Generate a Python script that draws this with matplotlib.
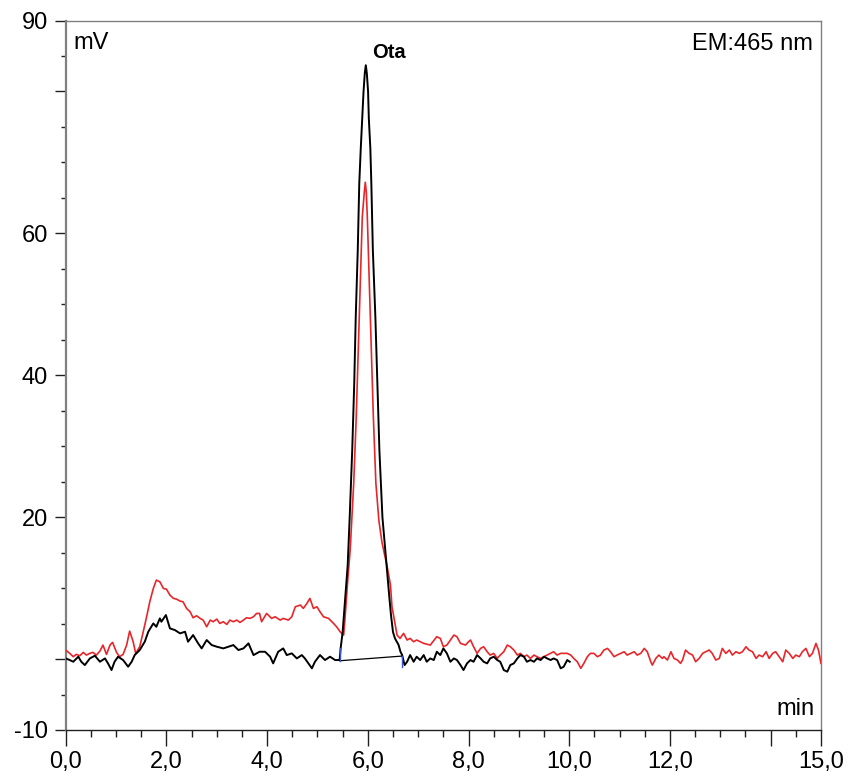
import matplotlib
matplotlib.use("Agg")
import matplotlib.pyplot as plt
from matplotlib.ticker import FixedLocator, FixedFormatter, MultipleLocator

plt.rcParams['font.family'] = ['Liberation Sans', 'DejaVu Sans']

# ---------------- data ----------------
red_t = [0.00, 0.08, 0.15, 0.21, 0.28, 0.35, 0.41, 0.48, 0.54, 0.61, 0.68, 0.74, 0.81, 0.88, 0.93,
         1.01, 1.07, 1.14, 1.21, 1.27, 1.34, 1.39, 1.47, 1.54, 1.60, 1.67, 1.74, 1.80, 1.87, 1.94,
         2.00, 2.07, 2.14, 2.20, 2.27, 2.33, 2.40, 2.47, 2.53, 2.60, 2.67, 2.73, 2.80, 2.87, 2.93,
         3.00, 3.06, 3.13, 3.20, 3.26, 3.33, 3.40, 3.46, 3.53, 3.59, 3.66, 3.73, 3.79, 3.85,
         3.89, 3.99, 4.09, 4.16, 4.26, 4.32, 4.42, 4.49, 4.56, 4.66, 4.72, 4.79, 4.85, 4.92, 4.99,
         5.05, 5.12, 5.22, 5.32, 5.38, 5.45, 5.52,
         5.55, 5.60, 5.65, 5.72, 5.77, 5.81, 5.85, 5.89, 5.93, 5.95, 5.97, 5.99, 6.03, 6.07, 6.11,
         6.16, 6.22, 6.28, 6.33, 6.38, 6.45, 6.48, 6.51, 6.55, 6.58,
         6.64, 6.71, 6.78, 6.84, 6.91, 6.97, 7.11, 7.24, 7.37, 7.44, 7.50, 7.57,
         7.64, 7.71, 7.77, 7.84, 7.94, 8.00, 8.04, 8.10, 8.17, 8.24, 8.30, 8.37, 8.43, 8.50, 8.57,
         8.63, 8.70, 8.77, 8.83, 8.90, 8.97, 9.03, 9.10, 9.16, 9.23, 9.30, 9.36, 9.43, 9.56, 9.63,
         9.69, 9.76, 9.83, 9.96, 10.03, 10.09, 10.16, 10.23, 10.29, 10.36, 10.42, 10.49, 10.56,
         10.62, 10.69, 10.76, 10.82, 10.89, 10.95, 11.02, 11.09, 11.15,
         11.22, 11.29, 11.35, 11.42, 11.49, 11.55, 11.62, 11.65, 11.72, 11.78, 11.85, 11.88, 11.95,
         12.02, 12.08, 12.15, 12.21, 12.25, 12.31, 12.38, 12.45, 12.51, 12.58, 12.65, 12.71, 12.78,
         12.84, 12.91, 12.98, 13.04, 13.11, 13.18, 13.24, 13.31, 13.38, 13.44, 13.51, 13.57, 13.64,
         13.71, 13.77, 13.84, 13.91, 13.97, 14.04, 14.10, 14.17, 14.24, 14.30, 14.37, 14.44, 14.50,
         14.57, 14.63, 14.70, 14.77, 14.83, 14.90, 14.95, 15.00]
red_mv = [1.27, 0.80, 0.33, 0.66, 0.47, 0.94, 0.56, 0.80, 0.94, 0.56, 1.13, 1.97, 0.66, 1.97, 2.35,
          0.94, 0.33, 0.66, 1.97, 3.94, 2.44, 0.80, 1.74, 3.85, 5.73, 8.08, 9.95, 11.13, 10.89, 9.95,
          9.86, 9.01, 8.55, 8.45, 8.17, 8.08, 7.14, 6.67, 5.82, 6.10, 5.73, 5.49, 4.55, 5.49, 5.26,
          5.63, 5.02, 5.26, 4.88, 5.49, 5.26, 5.49, 5.16, 5.49, 5.82, 5.73, 5.96, 6.43, 6.43,
          5.26, 6.43, 5.73, 5.96, 5.49, 5.73, 5.49, 5.96, 7.37, 7.61, 7.14, 7.84, 8.55, 7.14, 7.37,
          6.67, 5.96, 5.73, 5.02, 4.55, 3.85, 3.38,
          6.0, 11.0, 15.4, 24.8, 34.1, 43.5, 52.9, 62.3, 65.8, 67.2, 65.8, 62.3, 52.9, 43.5, 34.1,
          24.8, 19.5, 16.5, 14.8, 13.2, 10.42, 7.37, 6.20, 4.55, 3.38,
          2.91, 3.62, 2.68, 2.91, 2.44, 2.68, 2.21, 1.97, 3.15, 2.91, 1.74, 1.97,
          2.68, 3.38, 3.15, 2.21, 1.97, 2.44, 2.68, 1.74, 0.80, 1.50, 1.74, 1.03, 0.56, 0.80, 0.09,
          0.56, 1.03, 1.97, 1.74, 1.27, 0.56, 0.80, 0.33, 0.56, 0.09, 0.56, 0.33, 0.09, 0.56, 0.80,
          1.03, 0.56, 0.80, 0.80, 0.56, 0.09, -0.38, -1.31, -0.61, 0.33, 0.80, 0.80, 0.33,
          0.56, 1.27, 1.50, 1.03, 0.33, 0.56, 0.80, 1.03, 0.56,
          0.80, 1.03, 0.56, 0.80, 1.50, 1.03, -0.38, -0.85, 0.09, 0.56, 0.09, 0.33, -0.14,
          1.03, 0.09, -0.14, -0.61, -0.14, 1.27, 0.80, 0.56, -0.38, 0.09, 0.80, 1.03, 1.27,
          0.80, -0.14, 0.09, 1.50, 0.80, 1.27, 0.56, 1.03, 0.80, 1.03, 1.73, 1.27, 1.03,
          0.09, 0.56, 0.33, 1.03, 0.09, 0.80, 1.03, 0.33, -0.38, 1.27, 0.80, 0.09, 0.56,
          0.33, 1.03, 1.50, 0.33, 0.80, 2.20, 1.27, -0.61]

black_t = [0.00, 0.08, 0.15, 0.25, 0.31, 0.38, 0.48, 0.58, 0.68, 0.78, 0.84, 0.91, 0.97, 1.04, 1.14,
           1.24, 1.31, 1.37, 1.47, 1.57, 1.64, 1.74, 1.80, 1.87, 1.90, 1.99, 2.07, 2.17, 2.27, 2.37,
           2.43, 2.53, 2.63, 2.70, 2.80, 2.90, 3.00, 3.13, 3.23, 3.33, 3.43, 3.53, 3.63, 3.73, 3.85,
           3.96, 4.06, 4.12, 4.22, 4.32, 4.39, 4.49, 4.59, 4.69, 4.75, 4.82, 4.89, 4.95, 5.05, 5.15,
           5.25, 5.35, 5.44,
           5.46, 5.50, 5.55, 5.60, 5.64, 5.69, 5.73, 5.76, 5.80, 5.83, 5.86, 5.89, 5.915, 5.94, 5.96,
           5.98, 6.005, 6.02, 6.05, 6.07, 6.10, 6.15, 6.19, 6.23, 6.29, 6.38, 6.43, 6.46, 6.50, 6.54,
           6.61, 6.65, 6.68,
           6.73, 6.78, 6.84, 6.91, 6.97, 7.04, 7.11, 7.17, 7.24, 7.31, 7.37, 7.44, 7.50, 7.57,
           7.64, 7.71, 7.77, 7.84, 7.90, 7.97, 8.04, 8.10, 8.17, 8.24, 8.30, 8.37, 8.43, 8.50, 8.57,
           8.63, 8.70, 8.77, 8.83, 8.90, 8.97, 9.03, 9.10, 9.16, 9.23, 9.30, 9.36, 9.43, 9.50, 9.56,
           9.63, 9.69, 9.76, 9.83, 9.89, 9.96, 10.01]
black_mv = [0.09, -0.14, -0.38, 0.33, -0.38, -0.85, 0.09, 0.47, -0.38, 0.09, -0.61, -1.55, -0.38, 0.33, -0.14,
            -1.08, -0.38, 0.56, 1.27, 2.44, 3.85, 5.02, 4.55, 5.73, 5.26, 6.20, 4.32, 4.08, 3.62, 3.85,
            2.44, 3.38, 2.21, 1.50, 2.68, 1.97, 1.74, 1.50, 1.74, 1.97, 1.27, 1.50, 2.21, 0.56, 1.03,
            1.03, 0.33, -0.61, 1.03, 1.50, 0.56, 0.80, 0.09, 0.56, 0.09, -0.61, -1.31, -0.38, 0.56, -0.14,
            0.33, -0.14, -0.14,
            1.5, 3.8, 8.5, 13.2, 20.0, 29.4, 38.8, 48.2, 57.6, 67.0, 72.0, 76.2, 80.0, 82.6, 83.7,
            82.6, 80.0, 76.2, 72.0, 67.0, 57.6, 48.2, 38.8, 29.4, 20.0, 12.5, 8.5, 6.2, 3.8, 2.9,
            2.0, 1.0, 0.6,
            -0.85, -0.38, 0.56, -0.38, 0.33, -0.14, 0.56, -0.38, 0.09, -0.14, 1.03, 0.56, 1.50, 0.80,
            -0.38, 0.09, -0.14, -0.85, -1.55, -0.61, -0.14, -0.38, 0.56, 0.09, -0.38, -0.61, 0.09, 0.33, -0.14,
            -0.38, -1.55, -1.78, -0.85, -0.61, 0.09, 0.56, 0.33, -0.38, -0.14, -0.38, 0.09, -0.14, 0.33, 0.09,
            -0.14, 0.09, -0.14, -1.31, -1.08, -0.14, -0.38]

# peak integration baseline and markers (start / end)
peak_base_t = [5.44, 6.68]
peak_base_mv = [-0.24, 0.42]
marker_top = [1.5, 0.42]
marker_bottom = [-0.24, -1.1]

peak_name = "Ota"
peak_label_pos = (6.42, 84.7)

y_major = [90, 80, 60, 40, 20, 0, -10]
y_labels = ["90", "", "60", "40", "20", "", "-10"]
x_major = [0, 2, 4, 6, 8, 10, 12, 14, 15]
x_labels = ["0,0", "2,0", "4,0", "6,0", "8,0", "10,0", "12,0", "", "15,0"]

# ---------------- figure ----------------
W, H = 852, 776
fig = plt.figure(figsize=(W / 100, H / 100), dpi=100)
left, right, top, bottom = 65.7, 821.0, 20.5, 730.0
ax = fig.add_axes([left / W, 1 - bottom / H, (right - left) / W, (bottom - top) / H])

red = '#e8262a'
ax.plot(red_t, red_mv, color=red, lw=1.2, zorder=3)
ax.plot(black_t, black_mv, color='black', lw=1.4, zorder=4)
ax.plot(peak_base_t, peak_base_mv, color='black', lw=0.9, zorder=4)
for t, y0, y1 in zip(peak_base_t, marker_bottom, marker_top):
    ax.plot([t, t], [y0, y1], color='#3a55c8', lw=1.0, zorder=5)

ax.set_xlim(0, 15)
ax.set_ylim(-10, 90)

ax.yaxis.set_major_locator(FixedLocator(y_major))
ax.yaxis.set_major_formatter(FixedFormatter(y_labels))
ax.yaxis.set_minor_locator(MultipleLocator(5))
ax.xaxis.set_major_locator(FixedLocator(x_major))
ax.xaxis.set_major_formatter(FixedFormatter(x_labels))
ax.xaxis.set_minor_locator(MultipleLocator(0.5))

ax.tick_params(axis='y', which='major', length=8, width=1, pad=5, labelsize=17,
               direction='out', color='#202020')
ax.tick_params(axis='y', which='minor', length=3.3, width=1, direction='out', color='#202020')
ax.tick_params(axis='x', which='major', length=11.5, width=1, pad=3.5, labelsize=17,
               direction='out', color='#202020')
ax.tick_params(axis='x', which='minor', length=4.7, width=1, direction='out', color='#202020')
ax.tick_params(top=False, right=False)

ax.spines['left'].set_color('#808080')
ax.spines['left'].set_linewidth(1.6)
ax.spines['bottom'].set_color('#202020')
ax.spines['bottom'].set_linewidth(1.0)
ax.spines['top'].set_color('#808080')
ax.spines['top'].set_linewidth(1.0)
ax.spines['right'].set_color('#808080')
ax.spines['right'].set_linewidth(1.0)

ax.text(0.0097, 0.9598, "mV", transform=ax.transAxes, fontsize=17, ha='left', va='baseline')
ax.text(0.9894, 0.9584, "EM:465 nm", transform=ax.transAxes, fontsize=17, ha='right', va='baseline')
ax.text(0.9918, 0.0211, "min", transform=ax.transAxes, fontsize=17, ha='right', va='baseline')
ax.text(peak_label_pos[0], peak_label_pos[1], peak_name, fontsize=14.5, fontweight='bold',
        ha='center', va='baseline')

fig.savefig("out.png", dpi=100)
